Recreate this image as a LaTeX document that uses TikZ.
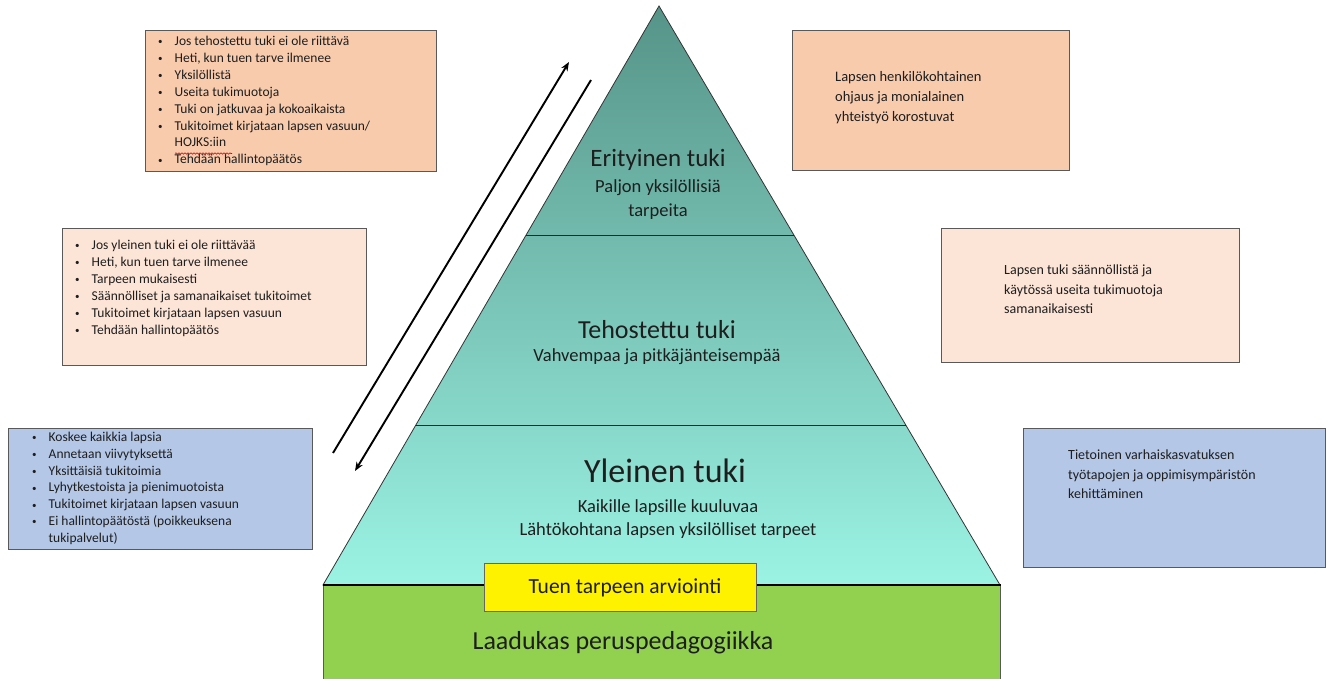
\documentclass[tikz,border=0pt]{standalone}
\usepackage{fontspec}
\setmainfont{Carlito}
\usetikzlibrary{arrows.meta,calc,decorations.pathmorphing}
\definecolor{peach}{RGB}{248,203,173}
\definecolor{lightpeach}{RGB}{252,228,214}
\definecolor{lightblue}{RGB}{180,199,231}
\definecolor{grass}{RGB}{146,208,80}
\definecolor{topteal}{RGB}{86,148,136}
\definecolor{bottomaqua}{RGB}{155,243,228}
\definecolor{txtgray}{RGB}{30,30,30}
\newcommand{\bl}{\makebox[16.5pt][l]{\raisebox{0.6pt}{\fontsize{9}{9}\selectfont\textbullet}}}
\begin{document}
\begin{tikzpicture}[x=1pt,y=-1pt,
  box/.style={draw=black!65, line width=0.8pt, inner sep=0pt, anchor=north west},
  txt/.style={anchor=north west, inner sep=0pt, align=left, text=txtgray},
  ptxt/.style={inner sep=0pt, align=center, text=txtgray},
  arr/.style={line width=1.9pt, -{Stealth[length=9pt,width=7pt]}},
  divider/.style={draw=black!60!teal, line width=0.8pt}]
\useasboundingbox (0,0) rectangle (1334,679);

% pyramid
\coordinate (apex) at (659,6);
\coordinate (pl) at (323,585);
\coordinate (pr) at (1000,585);
\shade[top color=topteal, bottom color=bottomaqua, draw=black!80, line width=0.8pt] (apex) -- (pr) -- (pl) -- cycle;
\draw[divider] ($(apex)!0.3955!(pl)$) -- ($(apex)!0.3955!(pr)$);
\draw[divider] ($(apex)!0.7237!(pl)$) -- ($(apex)!0.7237!(pr)$);

% base
\node[box, fill=grass, minimum width=677pt, minimum height=100pt] (base) at (323,585) {};
\draw[line width=1.6pt] (base.north west) -- (base.north east);
\node[box, fill=yellow, draw=black!60, minimum width=272pt, minimum height=48pt] (eval) at (484,563) {};
\node[ptxt, font=\fontsize{21.5}{25}\selectfont] (evaltxt) at (625,588) {Tuen tarpeen arviointi};
\node[ptxt, font=\fontsize{26}{30}\selectfont] (basetxt) at (623,643) {Laadukas peruspedagogiikka};

% tier labels
\node[ptxt, font=\fontsize{25}{29}\selectfont] (t1) at (658,160) {Erityinen tuki};
\node[ptxt, font=\fontsize{18.5}{24}\selectfont] (t1s) at (658,200) {Paljon yksilöllisiä\\tarpeita};
\node[ptxt, font=\fontsize{26}{30}\selectfont] (t2) at (657,330) {Tehostettu tuki};
\node[ptxt, font=\fontsize{18.5}{22}\selectfont] (t2s) at (657,357) {Vahvempaa ja pitkäjänteisempää};
\node[ptxt, font=\fontsize{34}{38}\selectfont] (t3) at (665,471) {Yleinen tuki};
\node[ptxt, font=\fontsize{18.5}{23}\selectfont] (t3s) at (668,519) {Kaikille lapsille kuuluvaa\\Lähtökohtana lapsen yksilölliset tarpeet};

% arrows
\coordinate (upA) at (333,453);
\coordinate (upB) at (569,62);
\coordinate (dnA) at (591,80);
\coordinate (dnB) at (355,471);
\draw[arr] (upA) -- (upB);
\draw[arr] (dnA) -- (dnB);

% left boxes
\node[box, fill=peach, minimum width=291pt, minimum height=141pt] (tl) at (145,30) {};
\node[txt, font=\fontsize{13.5}{16.9}\selectfont] (tltxt) at ([shift={(13,6)}]tl.north west) {%
\bl Jos tehostettu tuki ei ole riittävä\\
\bl Heti, kun tuen tarve ilmenee\\
\bl Yksilöllistä\\
\bl Useita tukimuotoja\\
\bl Tuki on jatkuvaa ja kokoaikaista\\
\bl Tukitoimet kirjataan lapsen vasuun/\\
\hspace*{16.5pt}HOJKS:iin\\
\bl Tehdään hallintopäätös};
\draw[red!85!black, line width=0.6pt, decorate, decoration={snake, amplitude=0.7pt, segment length=3pt}]
  ([shift={(30,123.5)}]tl.north west) -- ([shift={(87,123.5)}]tl.north west);

\node[box, fill=lightpeach, minimum width=304pt, minimum height=137pt] (ml) at (62,228) {};
\node[txt, font=\fontsize{13.5}{17}\selectfont] (mltxt) at ([shift={(13,12)}]ml.north west) {%
\bl Jos yleinen tuki ei ole riittävää\\
\bl Heti, kun tuen tarve ilmenee\\
\bl Tarpeen mukaisesti\\
\bl Säännölliset ja samanaikaiset tukitoimet\\
\bl Tukitoimet kirjataan lapsen vasuun\\
\bl Tehdään hallintopäätös};

\node[box, fill=lightblue, minimum width=304pt, minimum height=121pt] (bl) at (8,428) {};
\node[txt, font=\fontsize{13.5}{16.8}\selectfont] (bltxt) at ([shift={(24,4)}]bl.north west) {%
\bl Koskee kaikkia lapsia\\
\bl Annetaan viivytyksettä\\
\bl Yksittäisiä tukitoimia\\
\bl Lyhytkestoista ja pienimuotoista\\
\bl Tukitoimet kirjataan lapsen vasuun\\
\bl Ei hallintopäätöstä (poikkeuksena\\
\hspace*{16.5pt}tukipalvelut)};

% right boxes
\node[box, fill=peach, minimum width=277pt, minimum height=140pt] (tr) at (792,30) {};
\node[txt, font=\fontsize{14.5}{20}\selectfont] (trtxt) at ([shift={(43,41)}]tr.north west) {%
Lapsen henkilökohtainen\\ohjaus ja monialainen\\yhteistyö korostuvat};

\node[box, fill=lightpeach, minimum width=298pt, minimum height=134pt] (mr) at (941,228) {};
\node[txt, font=\fontsize{14}{19.5}\selectfont] (mrtxt) at ([shift={(63,37)}]mr.north west) {%
Lapsen tuki säännöllistä ja\\käytössä useita tukimuotoja\\samanaikaisesti};

\node[box, fill=lightblue, minimum width=302pt, minimum height=139pt] (br) at (1023,428) {};
\node[txt, font=\fontsize{14}{19.5}\selectfont] (brtxt) at ([shift={(45,22)}]br.north west) {%
Tietoinen varhaiskasvatuksen\\työtapojen ja oppimisympäristön\\kehittäminen};
\end{tikzpicture}
\end{document}
